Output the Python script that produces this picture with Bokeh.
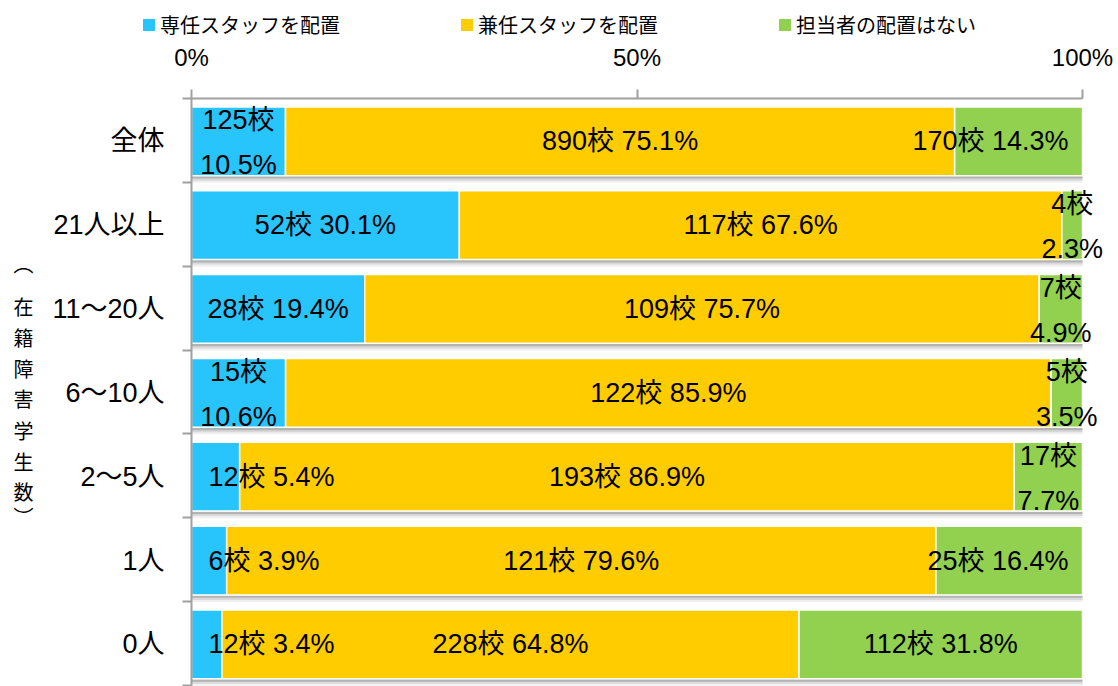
from bokeh.plotting import figure
from bokeh.layouts import column
from bokeh.models import (ColumnDataSource, Range1d, FixedTicker, Legend, LegendItem, LinearAxis)
from bokeh.core.properties import value
from bokeh.embed import file_html
from bokeh.resources import INLINE

# ---------------- data ----------------
categories = ["全体", "21人以上", "11～20人", "6～10人", "2～5人", "1人", "0人"]
series_names = ["専任スタッフを配置", "兼任スタッフを配置", "担当者の配置はない"]
full_counts = [125, 52, 28, 15, 12, 6, 12]
full_pct = [10.5, 30.1, 19.4, 10.6, 5.4, 3.9, 3.4]
part_counts = [890, 117, 109, 122, 193, 121, 228]
part_pct = [75.1, 67.6, 75.7, 85.9, 86.9, 79.6, 64.8]
none_counts = [170, 4, 7, 5, 17, 25, 112]
none_pct = [14.3, 2.3, 4.9, 3.5, 7.7, 16.4, 31.8]
tick_values = [0, 50, 100]
tick_labels = ["0%", "50%", "100%"]
y_title_chars = ["︵", "在", "籍", "障", "害", "学", "生", "数", "︶"]

colors = ["#28C4FC", "#FFCC00", "#92D050"]
LAT = "Liberation Sans, Noto Sans CJK JP"
CJK = "Noto Sans CJK JP"
AXIS_GRAY = "#A0A0A0"

counts = [full_counts, part_counts, none_counts]
pcts = [full_pct, part_pct, none_pct]
n = len(categories)
totals = [sum(c[i] for c in counts) for i in range(n)]
ycent = [i + 0.51 for i in range(n)]
BAR_H = 0.82

# ---------------- geometry (pixels) ----------------
W, H = 1118, 686
LEG_H = 40                      # height of the legend strip on top
F_LEFT, F_TOP, F_BOTTOM = 191, 97, 685
X100 = 1082                     # pixel of 100 %
px_per_x = (X100 - F_LEFT) / 100.0
x_end = 100 + (W - X100) / px_per_x
px_per_y = (F_BOTTOM - F_TOP) / n
MH = H - LEG_H

p = figure(width=W, height=MH, output_backend="svg", toolbar_location=None,
           x_range=Range1d(0, x_end), y_range=Range1d(n, 0),
           x_axis_location="above", min_border_left=F_LEFT,
           min_border_right=0, min_border_top=F_TOP - LEG_H,
           min_border_bottom=H - F_BOTTOM)
p.outline_line_color = None
p.xgrid.grid_line_color = None
p.ygrid.grid_line_color = None
p.background_fill_color = "white"
p.border_fill_color = "white"

# shadows below each bar row
bottoms = [y + BAR_H / 2 for y in ycent]
for top_off, bot_off, a in [(0.005, 0.035, 0.34), (0.005, 0.06, 0.18), (0.005, 0.085, 0.10)]:
    p.quad(left=0, right=100,
           top=[b + top_off for b in bottoms], bottom=[b + bot_off for b in bottoms],
           fill_color="#707070", fill_alpha=a, line_color=None)

# stacked bars
cum = [0.0] * n
seg_info = []
for s in range(3):
    left = [cum[i] / totals[i] * 100 for i in range(n)]
    right = [(cum[i] + counts[s][i]) / totals[i] * 100 for i in range(n)]
    src = ColumnDataSource(dict(y=ycent, left=left, right=right))
    p.hbar(y="y", left="left", right="right", height=BAR_H, source=src,
           fill_color=colors[s], line_color="white", line_width=1.5)
    seg_info.append((left, right))
    cum = [cum[i] + counts[s][i] for i in range(n)]

LBL_PX = 27
def est_width_px(t):
    w = 0.0
    for ch in t:
        if ch.isdigit():
            w += 0.556
        elif ch in " .":
            w += 0.278
        elif ch == "%":
            w += 0.889
        else:
            w += 1.0
    return w * LBL_PX

# data labels
single = dict(x=[], y=[], t=[])
single_left = dict(x=[], y=[], t=[])
two_top = dict(x=[], y=[], t=[])
two_bot = dict(x=[], y=[], t=[])
for s in range(3):
    left, right = seg_info[s]
    for i in range(n):
        w = right[i] - left[i]
        mid = (left[i] + right[i]) / 2
        c = counts[s][i]
        pc = pcts[s][i]
        txt = f"{c}校 {pc}%"
        if s == 0 and w < 7:
            single_left["x"].append(1.9); single_left["y"].append(ycent[i])
            single_left["t"].append(txt)
        elif w < 12:
            two_top["x"].append(mid); two_top["y"].append(ycent[i]); two_top["t"].append(f"{c}校")
            two_bot["x"].append(mid); two_bot["y"].append(ycent[i]); two_bot["t"].append(f"{pc}%")
        else:
            hw = est_width_px(txt) / 2 / px_per_x
            xc = min(mid, 100 - 14 / px_per_x - hw)
            single["x"].append(xc); single["y"].append(ycent[i])
            single["t"].append(txt)

LBL = f"{LBL_PX}px"
common = dict(text_baseline="middle", text_font=value(LAT), text_font_size=LBL,
              text_color="black")
p.text(x="x", y="y", text="t", source=ColumnDataSource(single), text_align="center", **common)
p.text(x="x", y="y", text="t", source=ColumnDataSource(single_left), text_align="left", **common)
p.text(x="x", y="y", text="t", source=ColumnDataSource(two_top), text_align="center",
       y_offset=-21, **common)
p.text(x="x", y="y", text="t", source=ColumnDataSource(two_bot), text_align="center",
       y_offset=24, **common)

# top axis
xa = p.xaxis[0]
xa.bounds = (0, 100)
xa.ticker = FixedTicker(ticks=tick_values)
xa.major_label_overrides = {v: t for v, t in zip(tick_values, tick_labels)}
xa.major_tick_out = 9
xa.major_tick_in = 0
xa.minor_tick_line_color = None
xa.major_tick_line_color = AXIS_GRAY
xa.major_tick_line_width = 2
xa.axis_line_color = AXIS_GRAY
xa.axis_line_width = 2
xa.major_label_text_font = LAT
xa.major_label_text_font_size = "24px"
xa.major_label_text_color = "black"
xa.major_label_standoff = 19

# left axis (categories)
ya = p.yaxis[0]
ya.ticker = FixedTicker(ticks=ycent, minor_ticks=list(range(n + 1)))
ya.major_label_overrides = {v: c for v, c in zip(ycent, categories)}
ya.major_tick_line_color = None
ya.minor_tick_line_color = AXIS_GRAY
ya.minor_tick_line_width = 2
ya.minor_tick_out = 9
ya.minor_tick_in = 0
ya.axis_line_color = AXIS_GRAY
ya.axis_line_width = 2
ya.major_label_text_font = LAT
ya.major_label_text_font_size = "27px"
ya.major_label_text_color = "black"
ya.major_label_standoff = 18

# vertical axis title, one character per line (as an extra label-only axis)
title_sy = [262, 305, 336, 367, 398, 430, 461, 491, 516]
title_pos = [(sy - F_TOP) / px_per_y for sy in title_sy]
ta = LinearAxis(ticker=FixedTicker(ticks=title_pos, minor_ticks=[]))
ta.major_label_overrides = {v: ch for v, ch in zip(title_pos, y_title_chars)}
ta.axis_line_color = None
ta.major_tick_line_color = None
ta.minor_tick_line_color = None
ta.major_tick_out = 0
ta.major_label_text_font = CJK
ta.major_label_text_font_size = "20px"
ta.major_label_text_color = "black"
ta.major_label_standoff = 16
p.add_layout(ta, "left")

# ---------------- legend strip ----------------
lf = figure(width=W, height=LEG_H, output_backend="svg", toolbar_location=None,
            x_range=Range1d(0, 1), y_range=Range1d(0, 1),
            x_axis_location=None, y_axis_location=None,
            min_border_left=0, min_border_right=0, min_border_top=0, min_border_bottom=0)
lf.outline_line_color = None
lf.xgrid.grid_line_color = None
lf.ygrid.grid_line_color = None
try:
    lf.frame_align = False
    leg_x = 141
except Exception:
    leg_x = 141 - F_LEFT
leg_renderers = []
for s in range(3):
    leg_renderers.append(lf.hbar(y=[-10], left=[0], right=[1], height=0.5,
                                 fill_color=colors[s], line_color=None))
legend = Legend(items=[LegendItem(label=nm, renderers=[r]) for nm, r in zip(series_names, leg_renderers)],
                orientation="horizontal", location=(leg_x, 1),
                glyph_width=15, glyph_height=15, label_standoff=4, spacing=119,
                label_text_font=CJK, label_text_font_size="20px", label_text_color="black",
                padding=0, margin=0, border_line_color=None, background_fill_alpha=0)
lf.add_layout(legend, "center")

layout = column(lf, p, spacing=0)
open("out.html", "w").write(file_html(layout, INLINE))
